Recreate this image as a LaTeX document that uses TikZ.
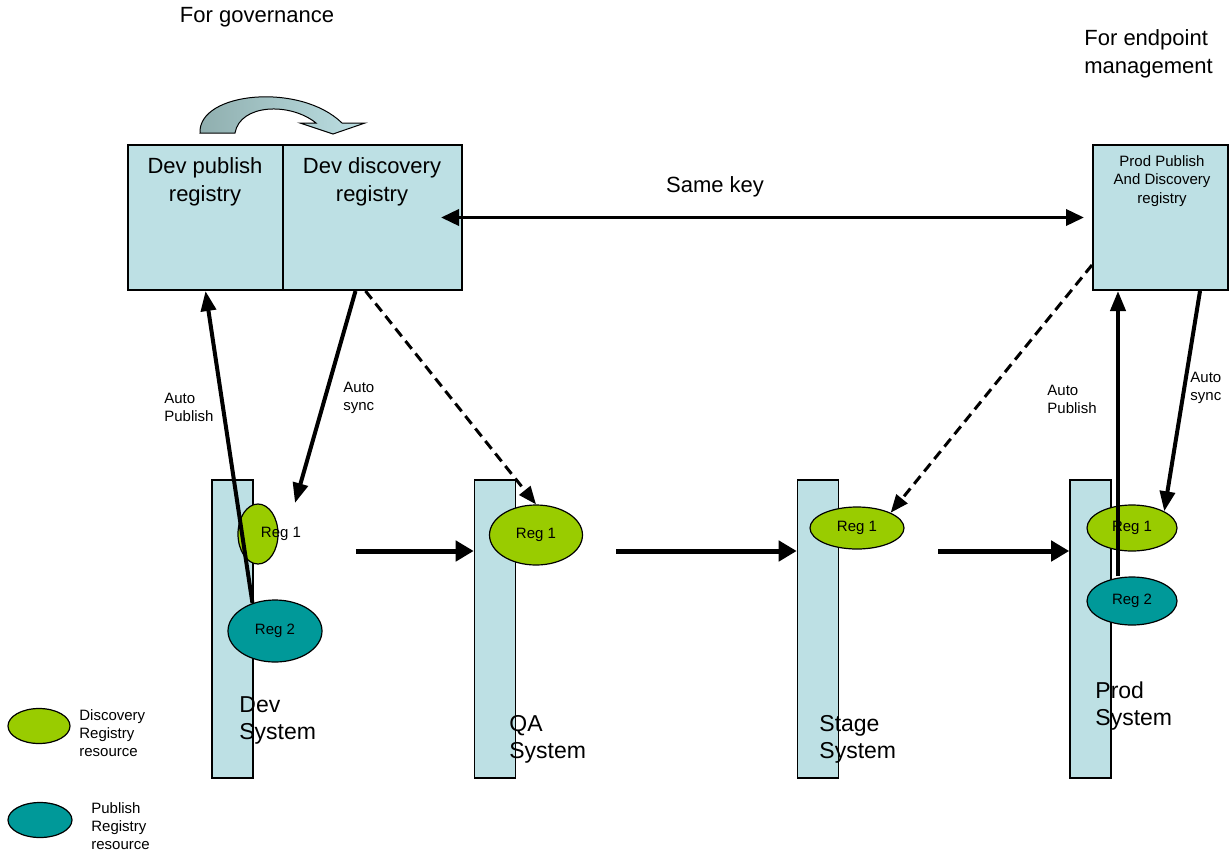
\documentclass[tikz,border=0pt]{standalone}
\usepackage{fontspec}
\setmainfont{Liberation Sans}
\usetikzlibrary{arrows.meta,positioning,calc,shapes.geometric}
\definecolor{regblue}{HTML}{BDE0E4}
\definecolor{discgreen}{HTML}{99CC00}
\definecolor{pubteal}{HTML}{009999}
\definecolor{curvegray}{HTML}{8FAEAE}

\begin{document}
\begin{tikzpicture}[
  x=0.5pt, y=-0.5pt,
  box/.style={draw, line width=1pt, fill=regblue, minimum height=72.5pt, inner sep=0pt},
  bar/.style={draw, line width=0.8pt, fill=regblue, minimum width=20.5pt, minimum height=149pt, inner sep=0pt},
  disc/.style={ellipse, draw, line width=0.6pt, fill=discgreen, inner sep=0pt, font=\fontsize{7.5}{9}\selectfont},
  pub/.style={ellipse, draw, line width=0.6pt, fill=pubteal, inner sep=0pt, font=\fontsize{7.5}{9}\selectfont},
  txt/.style={align=center, inner sep=0pt, font=\fontsize{11}{14}\selectfont},
  small/.style={align=left, anchor=west, inner sep=0pt, font=\fontsize{7.5}{9}\selectfont},
  sys/.style={align=left, anchor=west, inner sep=0pt, font=\fontsize{11.5}{13.5}\selectfont},
  arr/.style={-{Triangle[length=10pt,width=7.5pt]}, line width=2pt},
  flow/.style={-{Triangle[length=9pt,width=10pt]}, line width=2.5pt},
  dasharr/.style={-{Triangle[length=9pt,width=7pt]}, line width=1.5pt, dash pattern=on 5pt off 3pt},
  dbl/.style={{Triangle[length=9pt,width=8pt]}-{Triangle[length=9pt,width=8pt]}, line width=1.8pt}
]
\useasboundingbox (0,0) rectangle (1231,851);

% registries
\node[txt] (gov) at (257,17) {For governance};
\node[txt, align=left, anchor=west] (endpt) at (1084,54) {For endpoint\\management};
\draw[line width=0.5pt, left color=curvegray, right color=regblue]
  (200,133) .. controls (198,92) and (300,82) .. (342,123) -- (365,123) -- (333,134)
  -- (300,123) -- (316,123) .. controls (290,102) and (240,104) .. (235,133) -- cycle;

\node[box, minimum width=77.5pt] (devpub) at (205.5,217.5) {};
\node[box, minimum width=89.5pt] (devdisc) at (372.5,217.5) {};
\node[box, minimum width=67.5pt] (prodreg) at (1160.5,217.5) {};
\node[txt] (devpubtxt) at (205,182) {Dev publish\\registry};
\node[txt] (devdisctxt) at (372,182) {Dev discovery\\registry};
\node[txt, font=\fontsize{7.5}{9.25}\selectfont] (prodregtxt) at (1162,181) {Prod Publish\\And Discovery\\registry};
\node[txt] (samekey) at (715,187) {Same key};

% systems
\node[bar] (devbar) at (232.5,629) {};
\node[bar] (qabar) at (495,629) {};
\node[bar] (stagebar) at (818,629) {};
\node[bar] (prodbar) at (1090.5,629) {};

\node[disc, minimum width=20pt, minimum height=30pt] (devreg1) at (258,534) {};
\node[inner sep=0pt, font=\fontsize{7.5}{9}\selectfont] (devreg1txt) at (281,534) {Reg 1};
\node[pub, minimum width=47pt, minimum height=31pt] (devreg2) at (275,631) {Reg 2};
\node[disc, minimum width=46.5pt, minimum height=30pt] (qareg1) at (536,535) {Reg 1};
\node[disc, minimum width=47pt, minimum height=21pt] (stagereg1) at (857,528) {Reg 1};
\node[disc, minimum width=45pt, minimum height=23pt] (prodreg1) at (1132,528) {Reg 1};
\node[pub, minimum width=45pt, minimum height=24pt] (prodreg2) at (1132,601) {Reg 2};

\node[sys] (devsys) at (239,720) {Dev\\System};
\node[sys] (qasys) at (509,739) {QA\\System};
\node[sys] (stagesys) at (819,739) {Stage\\System};
\node[sys] (prodsys) at (1095,706) {Prod\\System};

% legend
\node[disc, minimum width=31pt, minimum height=17.5pt] (legdisc) at (39,726) {};
\node[pub, minimum width=32pt, minimum height=17.5pt] (legpub) at (40,820) {};
\node[small] (legdisctxt) at (79,733) {Discovery\\Registry\\resource};
\node[small] (legpubtxt) at (91,826) {Publish\\Registry\\resource};

% labels
\node[small] (devpublbl) at (164,407) {Auto\\Publish};
\node[small] (devsynclbl) at (343,398) {Auto\\sync};
\node[small] (prodpublbl) at (1047,399) {Auto\\Publish};
\node[small] (prodsynclbl) at (1190,388) {Auto\\sync};

% connectors
\coordinate (devsyncend) at (295,503);
\draw[dbl] ([xshift=-11pt]devdisc.east) -- ([xshift=-4pt]prodreg.west);
\draw[arr] (devreg2.129) -- (devpub.south);
\draw[arr] ([xshift=-8.5pt]devdisc.south) -- (devsyncend);
\draw[dasharr] ([xshift=-3.5pt]devdisc.south) -- (qareg1.north);
\draw[dasharr] ([yshift=-23.75pt]prodreg.west) -- (stagereg1.north east);
\draw[arr] ($(prodreg2.north)+(-7pt,0)$) -- ($(prodreg.south -| prodreg2.north)+(-7pt,0)$);
\draw[arr] ([xshift=19.75pt]prodreg.south) -- (prodreg1.north east);

\draw[flow] ([xshift=51pt,yshift=39pt]devbar.east) -- ([yshift=39pt]qabar.west);
\draw[flow] ([xshift=50pt,yshift=39pt]qabar.east) -- ([yshift=39pt]stagebar.west);
\draw[flow] ([xshift=49.5pt,yshift=39pt]stagebar.east) -- ([yshift=39pt]prodbar.west);

\end{tikzpicture}
\end{document}
